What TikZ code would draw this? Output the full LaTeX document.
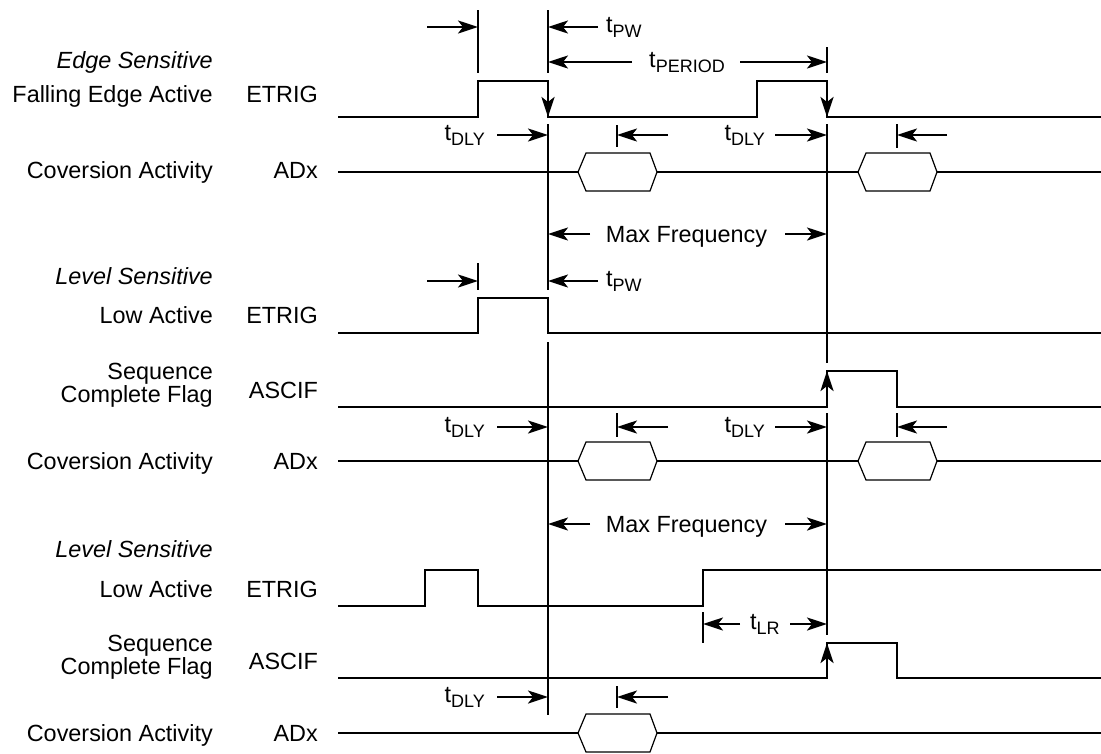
\documentclass[tikz,border=0pt]{standalone}
\usepackage{fontspec}
\setmainfont{Liberation Sans}
\usetikzlibrary{arrows.meta, positioning, calc}

\newcommand\lbfont{\fontsize{23.4}{23}\selectfont}
\newcommand\tsub[1]{t\raisebox{-5pt}{\fontsize{18}{18}\selectfont #1}}
\newcommand\hexbus[2]{\draw[bus] (#1,#2) -- ++(8,-19) -- ++(64,0) -- ++(7,19) -- ++(-7,19) -- ++(-64,0) -- cycle;}

\tikzset{
  sig/.style={line width=2.6pt, line join=miter},
  vline/.style={line width=2.6pt},
  edgearr/.style={line width=2.6pt, -{Stealth[length=20pt, width=13pt, inset=5pt]}},
  dim/.style={line width=2.4pt, -{Stealth[length=20pt, width=13pt, inset=5pt]}},
  bus/.style={line width=1.2pt, fill=white},
  lbl/.style={anchor=base east, inner sep=0pt, font=\lbfont},
  tl/.style={anchor=base west, inner sep=0pt, font=\lbfont},
}

\begin{document}
\begin{tikzpicture}[x=1pt, y=-1pt]
  \useasboundingbox (0,0) rectangle (1101,753);

  % row labels
  \node[lbl, font=\lbfont\itshape] (edge) at (213,68) {Edge Sensitive};
  \node[lbl] (fea) at (213,102) {Falling Edge Active};
  \node[lbl] (etrigA) at (318,102) {ETRIG};
  \node[lbl] (convA) at (213,178) {Coversion Activity};
  \node[lbl] (adxA) at (318,178) {ADx};
  \node[lbl, font=\lbfont\itshape] (levA) at (213,284) {Level Sensitive};
  \node[lbl] (lowA) at (213,323) {Low Active};
  \node[lbl] (etrigB) at (318,323) {ETRIG};
  \node[anchor=east, inner sep=0pt, font=\lbfont, align=right] (seqA) at (213,385) {Sequence\\Complete Flag};
  \node[lbl] (ascifA) at (318,398) {ASCIF};
  \node[lbl] (convB) at (213,469) {Coversion Activity};
  \node[lbl] (adxB) at (318,469) {ADx};
  \node[lbl, font=\lbfont\itshape] (levB) at (213,557) {Level Sensitive};
  \node[lbl] (lowB) at (213,597) {Low Active};
  \node[lbl] (etrigC) at (318,597) {ETRIG};
  \node[anchor=east, inner sep=0pt, font=\lbfont, align=right] (seqB) at (213,657) {Sequence\\Complete Flag};
  \node[lbl] (ascifB) at (318,669) {ASCIF};
  \node[lbl] (convC) at (213,741) {Coversion Activity};
  \node[lbl] (adxC) at (318,741) {ADx};

  % signals
  \draw[sig] (338,117) -- (478,117) -- (478,81) -- (548,81) -- (548,117) -- (757,117) -- (757,81) -- (827,81) -- (827,117) -- (1101,117);
  \draw[edgearr] (548,81) -- (548,117);
  \draw[edgearr] (827,81) -- (827,117);
  \foreach \y in {172,461} {
    \draw[sig] (338,\y) -- (1101,\y);
    \hexbus{578}{\y}
    \hexbus{858}{\y}
  }
  \draw[sig] (338,333) -- (478,333) -- (478,298) -- (548,298) -- (548,333) -- (1101,333);
  \draw[sig] (338,407) -- (827,407) -- (827,371) -- (897,371) -- (897,407) -- (1101,407);
  \draw[edgearr] (827,407) -- (827,371);
  \draw[sig] (338,606) -- (425,606) -- (425,570) -- (478,570) -- (478,606) -- (703,606) -- (703,570) -- (1101,570);
  \draw[sig] (338,678) -- (827,678) -- (827,643) -- (897,643) -- (897,678) -- (1101,678);
  \draw[edgearr] (827,678) -- (827,643);
  \draw[sig] (338,733) -- (1101,733);
  \hexbus{578}{733}

  % timing markers
  \foreach \x/\ya/\yb in {478/10/73, 548/10/73, 827/47/73, 548/124/290, 827/124/363,
      617/125/147, 897/124/148, 478/263/290, 548/342/715, 827/413/635,
      617/413/437, 897/413/437, 703/612/643, 617/686/708}
    \draw[vline] (\x,\ya) -- (\x,\yb);

  % tPW / tPERIOD
  \foreach \y/\n in {27/a, 281/b} {
    \coordinate (pwL\n) at (427,\y); \coordinate (pwR\n) at (478,\y);
    \coordinate (pwS\n) at (598,\y); \coordinate (pwE\n) at (548,\y);
    \draw[dim] (pwL\n) -- (pwR\n);
    \draw[dim] (pwS\n) -- (pwE\n);
    \node[tl] (tpw\n) at (606,\y+5) {\tsub{PW}};
  }
  \node[anchor=base, inner sep=0pt, font=\lbfont] (tper) at (687,67) {\tsub{PERIOD}};
  \coordinate (perA) at (632,62); \coordinate (perB) at (548,62);
  \coordinate (perC) at (740,62); \coordinate (perD) at (827,62);
  \draw[dim] (perA) -- (perB);
  \draw[dim] (perC) -- (perD);

  % tDLY
  \foreach \y/\n/\last in {135/a/1, 427/b/1, 697/c/0} {
    \node[lbl] (dly\n) at (485,\y+5) {\tsub{DLY}};
    \coordinate (dlyS\n) at (497,\y); \coordinate (dlyE\n) at (548,\y);
    \coordinate (cvS\n) at (668,\y); \coordinate (cvE\n) at (617,\y);
    \draw[dim] (dlyS\n) -- (dlyE\n);
    \draw[dim] (cvS\n) -- (cvE\n);
    \ifnum\last=1
      \node[lbl] (dlyx\n) at (765,\y+5) {\tsub{DLY}};
      \coordinate (dlyxS\n) at (775,\y); \coordinate (dlyxE\n) at (827,\y);
      \coordinate (cvxS\n) at (947,\y); \coordinate (cvxE\n) at (897,\y);
      \draw[dim] (dlyxS\n) -- (dlyxE\n);
      \draw[dim] (cvxS\n) -- (cvxE\n);
    \fi
  }

  % max frequency
  \foreach \y/\n in {234/a, 524/b} {
    \node[anchor=base, inner sep=0pt, font=\lbfont] (mf\n) at (686.5,\y+8) {Max Frequency};
    \coordinate (mfA\n) at (590,\y); \coordinate (mfB\n) at (548,\y);
    \coordinate (mfC\n) at (785,\y); \coordinate (mfD\n) at (827,\y);
    \draw[dim] (mfA\n) -- (mfB\n);
    \draw[dim] (mfC\n) -- (mfD\n);
  }

  % tLR
  \node[tl] (tlr) at (750,629) {\tsub{LR}};
  \coordinate (lrA) at (740,624); \coordinate (lrB) at (703,624);
  \coordinate (lrC) at (790,624); \coordinate (lrD) at (827,624);
  \draw[dim] (lrA) -- (lrB);
  \draw[dim] (lrC) -- (lrD);
\end{tikzpicture}
\end{document}
